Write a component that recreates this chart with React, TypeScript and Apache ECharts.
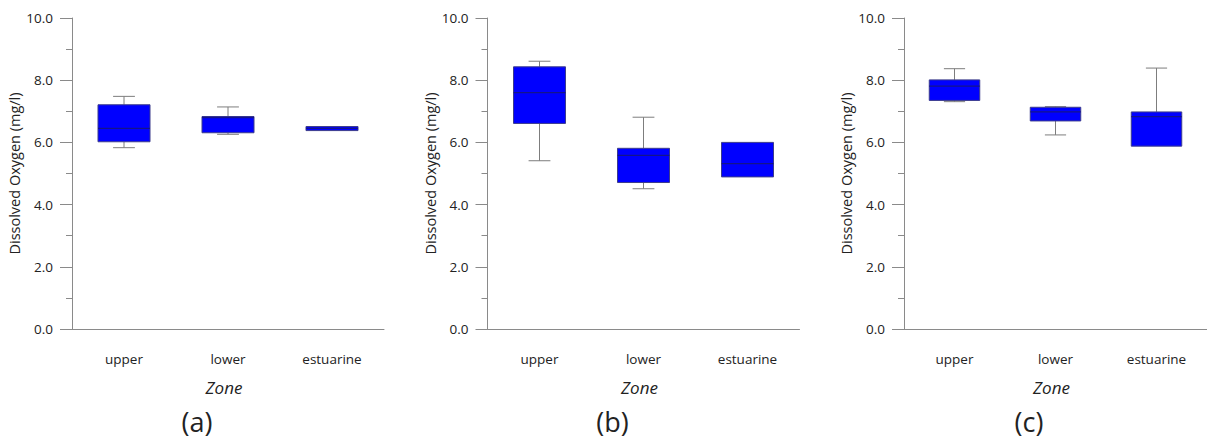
import React, { useEffect, useRef } from "react";
import * as echarts from "echarts";

// Zones along the river
const categories = ["upper", "lower", "estuarine"];

// Box statistics per zone: [lower whisker, Q1, median, Q3, upper whisker] (mg/l)
const panelA = [
  [5.83, 6.02, 6.45, 7.21, 7.48],
  [6.26, 6.31, 6.8, 6.83, 7.14],
  [6.38, 6.38, 6.45, 6.51, 6.51],
];
const panelB = [
  [5.41, 6.61, 7.6, 8.43, 8.61],
  [4.51, 4.71, 5.58, 5.81, 6.81],
  [4.89, 4.89, 5.32, 6.0, 6.0],
];
const panelC = [
  [7.31, 7.35, 7.81, 8.01, 8.37],
  [6.24, 6.69, 6.98, 7.13, 7.15],
  [5.88, 5.88, 6.83, 6.98, 8.39],
];

const panelLabels = ["(a)", "(b)", "(c)"];
const yTicks = [0, 2, 4, 6, 8, 10];

const FONT = "'Open Sans', 'Noto Sans', sans-serif";
const AXIS_COLOR = "#8a8a8a";
const TEXT_COLOR = "#222222";

const panels = [panelA, panelB, panelC];
const gridLefts = [72, 487.5, 904];
const GRID_TOP = 18;
const GRID_HEIGHT = 311;
const GRID_WIDTH = 312;

function renderBox(params: any, api: any) {
  const x = api.value(0);
  const lo = api.coord([x, api.value(1)]);
  const q1 = api.coord([x, api.value(2)]);
  const med = api.coord([x, api.value(3)]);
  const q3 = api.coord([x, api.value(4)]);
  const hi = api.coord([x, api.value(5)]);
  const band = api.size([1, 0])[0];
  const bw = band * 0.5;
  const cw = band * 0.21;
  const cx = q1[0];
  const whiskerStyle = { stroke: "#7d7d7d", lineWidth: 1 };
  const children: any[] = [];
  if (Math.abs(hi[1] - q3[1]) > 0.5) {
    children.push({
      type: "line",
      shape: { x1: cx, y1: q3[1], x2: cx, y2: hi[1] },
      style: whiskerStyle,
    });
    children.push({
      type: "line",
      shape: { x1: cx - cw / 2, y1: hi[1], x2: cx + cw / 2, y2: hi[1] },
      style: whiskerStyle,
    });
  }
  if (Math.abs(lo[1] - q1[1]) > 0.5) {
    children.push({
      type: "line",
      shape: { x1: cx, y1: q1[1], x2: cx, y2: lo[1] },
      style: whiskerStyle,
    });
    children.push({
      type: "line",
      shape: { x1: cx - cw / 2, y1: lo[1], x2: cx + cw / 2, y2: lo[1] },
      style: whiskerStyle,
    });
  }
  children.push({
    type: "rect",
    shape: { x: cx - bw / 2, y: q3[1], width: bw, height: q1[1] - q3[1] },
    style: { fill: "#0000ff", stroke: "#3c3c8c", lineWidth: 1 },
  });
  children.push({
    type: "line",
    shape: { x1: cx - bw / 2, y1: med[1], x2: cx + bw / 2, y2: med[1] },
    style: { stroke: "#14148a", lineWidth: 1.3 },
  });
  return { type: "group", children };
}

export default function App() {
  const ref = useRef<HTMLDivElement>(null);

  useEffect(() => {
    if (!ref.current) return;
    const chart = echarts.init(ref.current, null, { renderer: "svg" });

    const grid = gridLefts.map((left) => ({
      left,
      top: GRID_TOP,
      width: GRID_WIDTH,
      height: GRID_HEIGHT,
    }));

    const xAxis = gridLefts.map((_, i) => ({
      type: "category",
      gridIndex: i,
      data: categories,
      boundaryGap: true,
      name: "Zone",
      nameLocation: "middle",
      nameGap: 50,
      nameTextStyle: {
        fontFamily: FONT,
        fontSize: 17,
        fontStyle: "italic",
        color: TEXT_COLOR,
        padding: [0, 8, 0, 0],
      },
      axisLine: { lineStyle: { color: AXIS_COLOR, width: 1 } },
      axisTick: {
        alignWithLabel: true,
        length: 12,
        lineStyle: { color: AXIS_COLOR },
      },
      axisLabel: {
        margin: 23,
        fontFamily: FONT,
        fontSize: 13.5,
        color: TEXT_COLOR,
      },
      splitLine: { show: false },
    }));

    const yAxis = gridLefts.map((_, i) => ({
      type: "value",
      gridIndex: i,
      min: yTicks[0],
      max: yTicks[yTicks.length - 1],
      interval: 2,
      name: "Dissolved Oxygen (mg/l)",
      nameLocation: "middle",
      nameGap: 43,
      nameTextStyle: { fontFamily: FONT, fontSize: 14.5, color: TEXT_COLOR },
      axisLine: { show: true, lineStyle: { color: AXIS_COLOR, width: 1 } },
      axisTick: { show: true, length: 12, lineStyle: { color: AXIS_COLOR } },
      minorTick: {
        show: true,
        splitNumber: 2,
        length: 6,
        lineStyle: { color: AXIS_COLOR },
      },
      axisLabel: {
        margin: 19,
        fontFamily: FONT,
        fontSize: 13.5,
        color: TEXT_COLOR,
        formatter: (v: number) => v.toFixed(1),
      },
      splitLine: { show: false },
      minorSplitLine: { show: false },
    }));

    const series = panels.map((panel, i) => ({
      type: "custom",
      xAxisIndex: i,
      yAxisIndex: i,
      renderItem: renderBox,
      encode: { x: 0, y: [1, 2, 3, 4, 5] },
      data: panel.map((stats, c) => [c, ...stats]),
      clip: false,
    }));

    const graphic = gridLefts.map((left, i) => ({
      type: "text",
      x: left + 125,
      y: 421,
      style: {
        text: panelLabels[i],
        fontFamily: FONT,
        fontSize: 27,
        fill: "#222222",
        textAlign: "center",
        textVerticalAlign: "middle",
      },
    }));

    chart.setOption({
      animation: false,
      backgroundColor: "#ffffff",
      grid,
      xAxis,
      yAxis,
      series,
      graphic,
    });

    return () => chart.dispose();
  }, []);

  return (
    <div
      ref={ref}
      style={{ position: "fixed", left: 0, top: 0, width: 1207, height: 441 }}
    />
  );
}
